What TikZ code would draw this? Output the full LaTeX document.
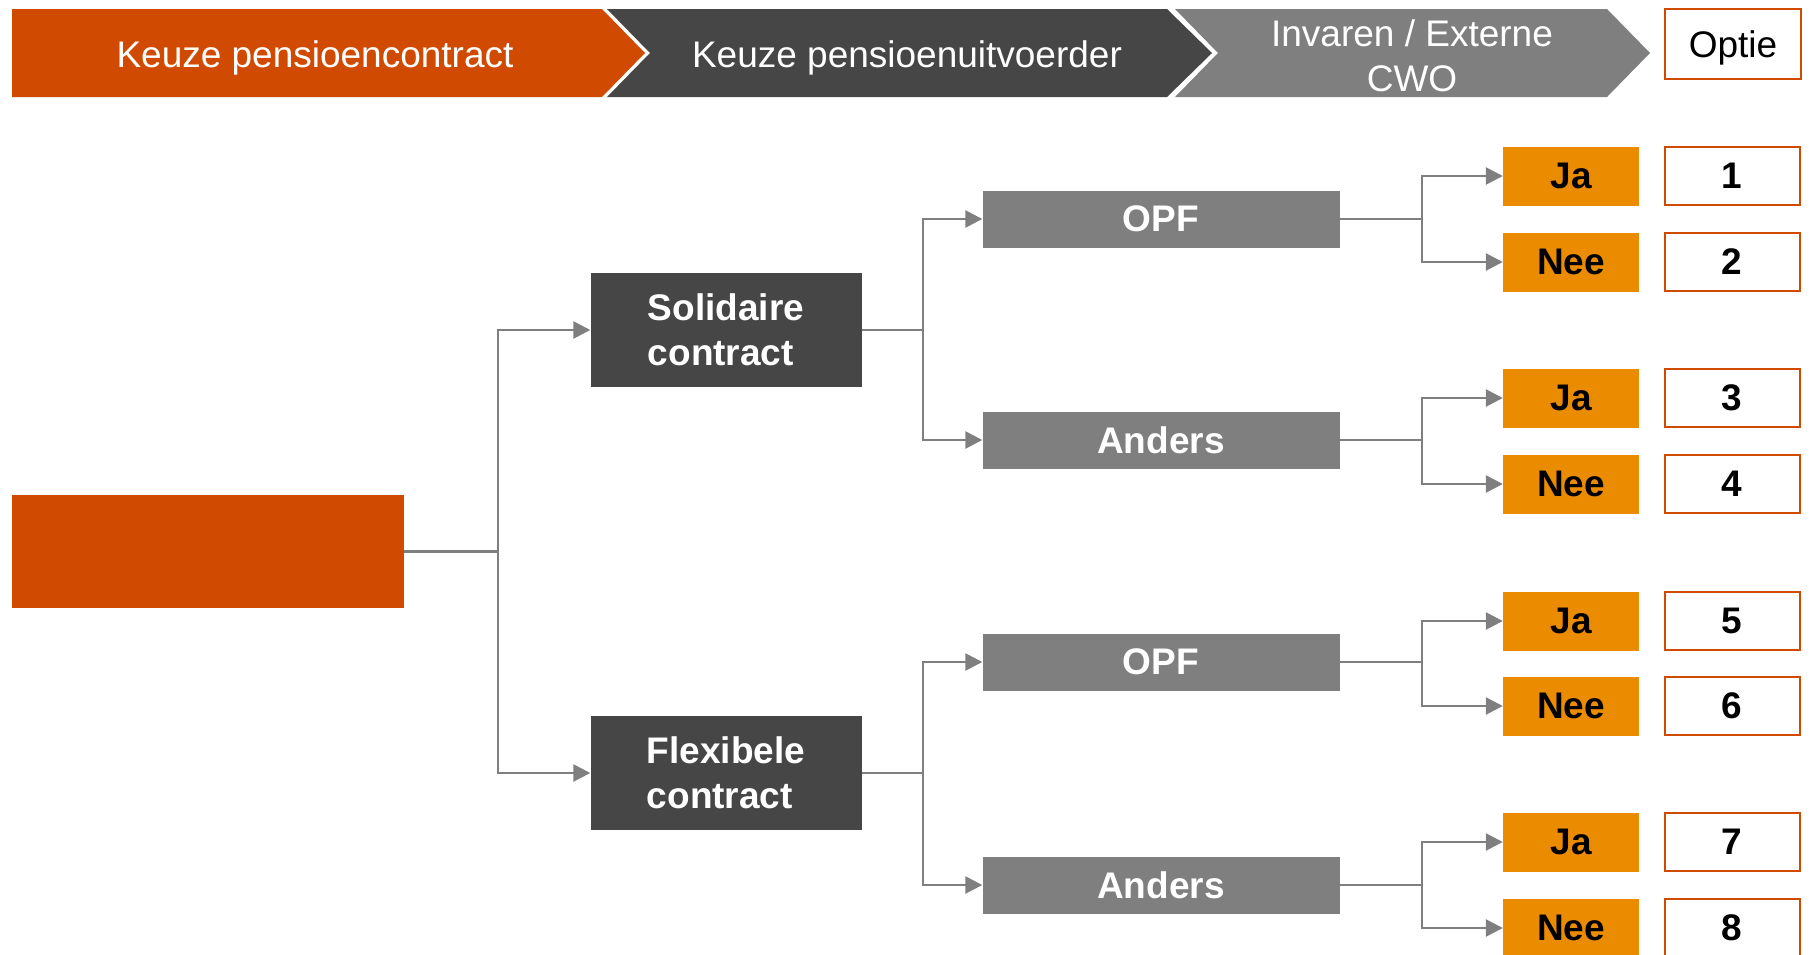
\documentclass[tikz,border=0pt]{standalone}
\usepackage{fontspec}
\setmainfont{Liberation Sans}
\usetikzlibrary{arrows.meta}
\definecolor{keuzeorange}{HTML}{D04A02}
\definecolor{keuzedark}{HTML}{464646}
\definecolor{keuzegrey}{HTML}{7F7F7F}
\definecolor{keuzeamber}{HTML}{EB8C00}
\tikzset{
  headtext/.style={text=white,align=center,inner sep=0pt,text height=27pt,text depth=0pt},
  contractbox/.style={fill=keuzedark,text=white,font=\fontsize{37}{45}\selectfont\bfseries,minimum width=271pt,minimum height=114pt,inner sep=0pt,align=left},
  uitvoerderbox/.style={fill=keuzegrey,text=white,font=\fontsize{37}{45}\selectfont\bfseries,minimum width=357pt,minimum height=57pt,inner sep=0pt},
  keuzebox/.style={fill=keuzeamber,text=black,font=\fontsize{37}{45}\selectfont\bfseries,minimum width=136pt,minimum height=59pt,inner sep=0pt},
  optiebox/.style={draw=keuzeorange,line width=2pt,fill=white,text=black,minimum width=135pt,minimum height=58pt,inner sep=0pt},
  link/.style={draw=keuzegrey,line width=2.6pt},
  arrowlink/.style={link,-{Triangle[length=17pt,width=17pt]}}
}
\begin{document}
\begin{tikzpicture}[x=1pt,y=-1pt,font=\fontsize{37}{45}\selectfont]
\useasboundingbox (0,0) rectangle (1816,954);
\fill[keuzeorange] (12,9) --(602,9) --(645,53) --(602,97) --(12,97) --cycle;
\fill[keuzedark] (607,9) --(1167,9) --(1212,53) --(1167,97) --(607,97) --(650,53) --cycle;
\fill[keuzegrey] (1175,9) --(1607,9) --(1650,53) --(1607,97) --(1175,97) --(1218,53) --cycle;
\node[headtext] (kop1) at (315,54) {Keuze pensioencontract};
\node[headtext] (kop2) at (907,54) {Keuze pensioenuitvoerder};
\node[text=white,align=center,inner sep=0pt] (kop3) at (1412,56) {Invaren / Externe\\CWO};
\node[optiebox,minimum width=136pt,minimum height=70pt,text height=27pt,text depth=0pt] (optie) at (1733,44) {Optie};

\fill[keuzeorange] (12,495) rectangle (404,608);
\node[minimum width=392pt,minimum height=113pt,inner sep=0pt] (root) at (208,551.5) {};

\node[contractbox] (sol) at (726,330) {Solidaire\\contract};
\node[contractbox] (flex) at (726,773) {Flexibele\\contract};

\node[uitvoerderbox] (opf1) at (1161,219) {OPF};
\node[uitvoerderbox] (and1) at (1161,440) {Anders};
\node[uitvoerderbox] (opf2) at (1161,662) {OPF};
\node[uitvoerderbox] (and2) at (1161,885) {Anders};

\node[keuzebox] (ja1) at (1571,176) {Ja};
\node[keuzebox] (nee1) at (1571,262) {Nee};
\node[keuzebox] (ja2) at (1571,398) {Ja};
\node[keuzebox] (nee2) at (1571,484) {Nee};
\node[keuzebox] (ja3) at (1571,621) {Ja};
\node[keuzebox] (nee3) at (1571,706) {Nee};
\node[keuzebox] (ja4) at (1571,842) {Ja};
\node[keuzebox] (nee4) at (1571,928) {Nee};

\node[optiebox,font=\fontsize{37}{45}\selectfont\bfseries] (opt1) at (1732,176) {1};
\node[optiebox,font=\fontsize{37}{45}\selectfont\bfseries] (opt2) at (1732,262) {2};
\node[optiebox,font=\fontsize{37}{45}\selectfont\bfseries] (opt3) at (1732,398) {3};
\node[optiebox,font=\fontsize{37}{45}\selectfont\bfseries] (opt4) at (1732,484) {4};
\node[optiebox,font=\fontsize{37}{45}\selectfont\bfseries] (opt5) at (1732,621) {5};
\node[optiebox,font=\fontsize{37}{45}\selectfont\bfseries] (opt6) at (1732,706) {6};
\node[optiebox,font=\fontsize{37}{45}\selectfont\bfseries] (opt7) at (1732,842) {7};
\node[optiebox,font=\fontsize{37}{45}\selectfont\bfseries] (opt8) at (1732,928) {8};

\coordinate (split0) at (498,551.5);
\draw[link] (root.east) -- (split0);
\draw[arrowlink] (split0) |- (sol.west);
\draw[arrowlink] (split0) |- (flex.west);

\coordinate (split1) at (923,330);
\draw[link] (sol.east) -- (split1);
\draw[arrowlink] (split1) |- (opf1.west);
\draw[arrowlink] (split1) |- (and1.west);
\coordinate (split2) at (923,773);
\draw[link] (flex.east) -- (split2);
\draw[arrowlink] (split2) |- (opf2.west);
\draw[arrowlink] (split2) |- (and2.west);

\coordinate (split3) at (1422,219);
\draw[link] (opf1.east) -- (split3);
\draw[arrowlink] (split3) |- (ja1.west);
\draw[arrowlink] (split3) |- (nee1.west);
\coordinate (split4) at (1422,440);
\draw[link] (and1.east) -- (split4);
\draw[arrowlink] (split4) |- (ja2.west);
\draw[arrowlink] (split4) |- (nee2.west);
\coordinate (split5) at (1422,662);
\draw[link] (opf2.east) -- (split5);
\draw[arrowlink] (split5) |- (ja3.west);
\draw[arrowlink] (split5) |- (nee3.west);
\coordinate (split6) at (1422,885);
\draw[link] (and2.east) -- (split6);
\draw[arrowlink] (split6) |- (ja4.west);
\draw[arrowlink] (split6) |- (nee4.west);

\end{tikzpicture}
\end{document}
